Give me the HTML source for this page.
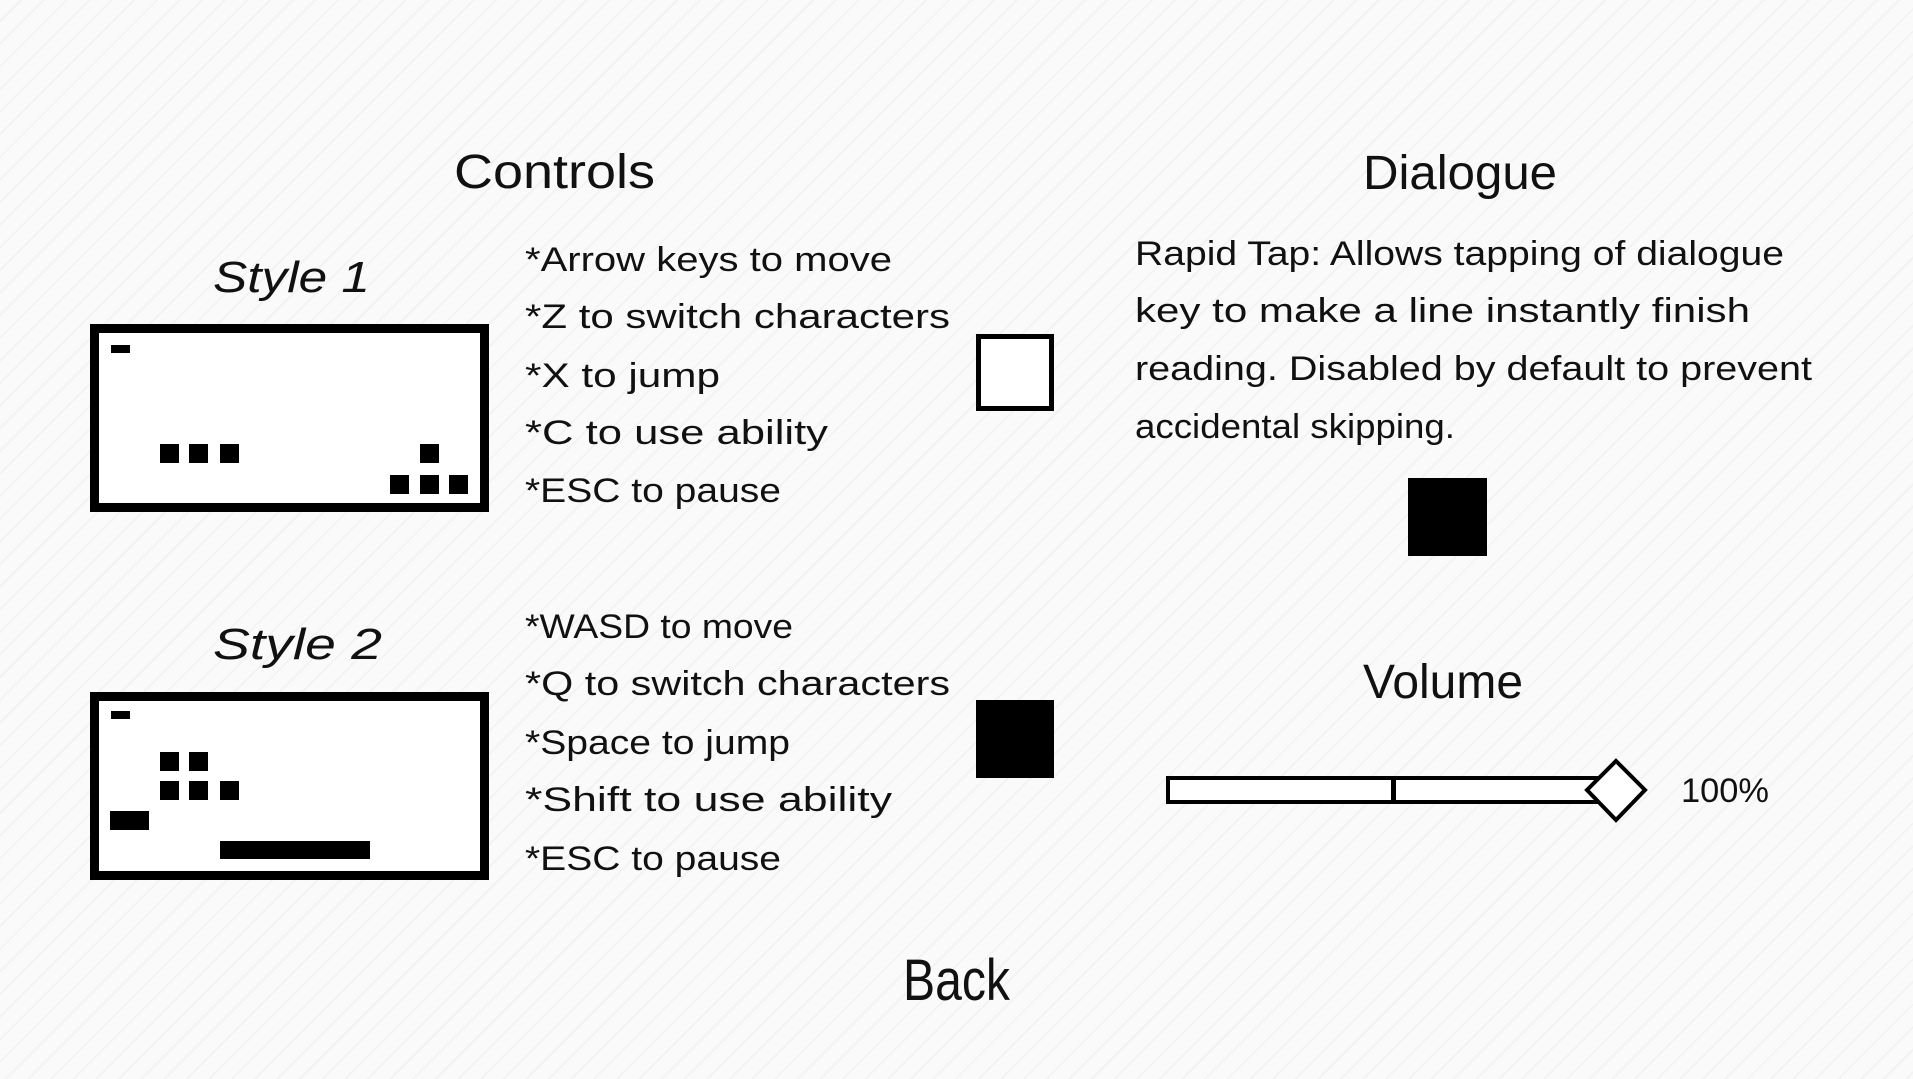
<!DOCTYPE html>
<html><head><meta charset="utf-8"><style>
html,body{margin:0;padding:0;width:1913px;height:1079px;overflow:hidden;
background:#fafafa repeating-linear-gradient(135deg,#fafafa 0 14px,#f3f3f3 14px 16px);}
svg{position:absolute;left:0;top:0}
text{font-family:"Liberation Sans",sans-serif;fill:#111}
</style></head><body>
<svg width="1913" height="1079" viewBox="0 0 1913 1079">
<g font-size="48">
<text x="454" y="188" textLength="201" lengthAdjust="spacingAndGlyphs">Controls</text>
<text x="1363" y="189" textLength="194" lengthAdjust="spacingAndGlyphs">Dialogue</text>
<text x="1363" y="698" textLength="160" lengthAdjust="spacingAndGlyphs">Volume</text>
</g>
<text x="903" y="1000" font-size="58" textLength="107" lengthAdjust="spacingAndGlyphs">Back</text>
<g font-size="44" font-style="italic">
<text x="213" y="292" textLength="157" lengthAdjust="spacingAndGlyphs">Style 1</text>
<text x="213" y="659" textLength="169" lengthAdjust="spacingAndGlyphs">Style 2</text>
</g>
<!-- box 1 -->
<rect x="94.5" y="328.5" width="390" height="179" fill="#fff" stroke="#000" stroke-width="9"/>
<g fill="#000">
<rect x="111" y="345" width="19" height="8"/>
<rect x="160" y="444" width="19" height="19"/><rect x="189" y="444" width="19" height="19"/><rect x="220" y="444" width="19" height="19"/>
<rect x="420" y="444" width="19" height="19"/>
<rect x="390" y="475" width="19" height="19"/><rect x="420" y="475" width="19" height="19"/><rect x="449" y="475" width="19" height="19"/>
</g>
<!-- box 2 -->
<rect x="94.5" y="696.5" width="390" height="179" fill="#fff" stroke="#000" stroke-width="9"/>
<g fill="#000">
<rect x="111" y="711" width="19" height="8"/>
<rect x="160" y="752" width="19" height="19"/><rect x="189" y="752" width="19" height="19"/>
<rect x="160" y="781" width="19" height="19"/><rect x="189" y="781" width="19" height="19"/><rect x="220" y="781" width="19" height="19"/>
<rect x="110" y="811" width="39" height="19"/>
<rect x="220" y="841" width="150" height="18"/>
</g>
<g font-size="34">
<text x="525" y="271" textLength="367" lengthAdjust="spacingAndGlyphs">*Arrow keys to move</text>
<text x="525" y="328" textLength="425" lengthAdjust="spacingAndGlyphs">*Z to switch characters</text>
<text x="525" y="387" textLength="195" lengthAdjust="spacingAndGlyphs">*X to jump</text>
<text x="525" y="444" textLength="303" lengthAdjust="spacingAndGlyphs">*C to use ability</text>
<text x="525" y="502" textLength="256" lengthAdjust="spacingAndGlyphs">*ESC to pause</text>
<text x="525" y="638" textLength="268" lengthAdjust="spacingAndGlyphs">*WASD to move</text>
<text x="525" y="695" textLength="425" lengthAdjust="spacingAndGlyphs">*Q to switch characters</text>
<text x="525" y="754" textLength="265" lengthAdjust="spacingAndGlyphs">*Space to jump</text>
<text x="525" y="811" textLength="367" lengthAdjust="spacingAndGlyphs">*Shift to use ability</text>
<text x="525" y="870" textLength="256" lengthAdjust="spacingAndGlyphs">*ESC to pause</text>
<text x="1135" y="265" textLength="649" lengthAdjust="spacingAndGlyphs">Rapid Tap: Allows tapping of dialogue</text>
<text x="1135" y="322" textLength="615" lengthAdjust="spacingAndGlyphs">key to make a line instantly finish</text>
<text x="1135" y="380" textLength="677" lengthAdjust="spacingAndGlyphs">reading. Disabled by default to prevent</text>
<text x="1135" y="438" textLength="320" lengthAdjust="spacingAndGlyphs">accidental skipping.</text>
<text x="1681" y="802" textLength="88" lengthAdjust="spacingAndGlyphs">100%</text>
</g>
<!-- checkboxes -->
<rect x="978.5" y="336.5" width="73" height="72" fill="#fff" stroke="#000" stroke-width="5"/>
<rect x="976" y="700" width="78" height="78" fill="#000"/>
<rect x="1408" y="478" width="79" height="78" fill="#000"/>
<!-- slider -->
<rect x="1168" y="778" width="442" height="24" fill="#fff" stroke="#000" stroke-width="4"/>
<rect x="1391" y="778" width="5" height="24" fill="#000"/>
<polygon points="1616,761 1645,790 1616,820 1587,790" fill="#fff" stroke="#000" stroke-width="4"/>
</svg>
</body></html>
